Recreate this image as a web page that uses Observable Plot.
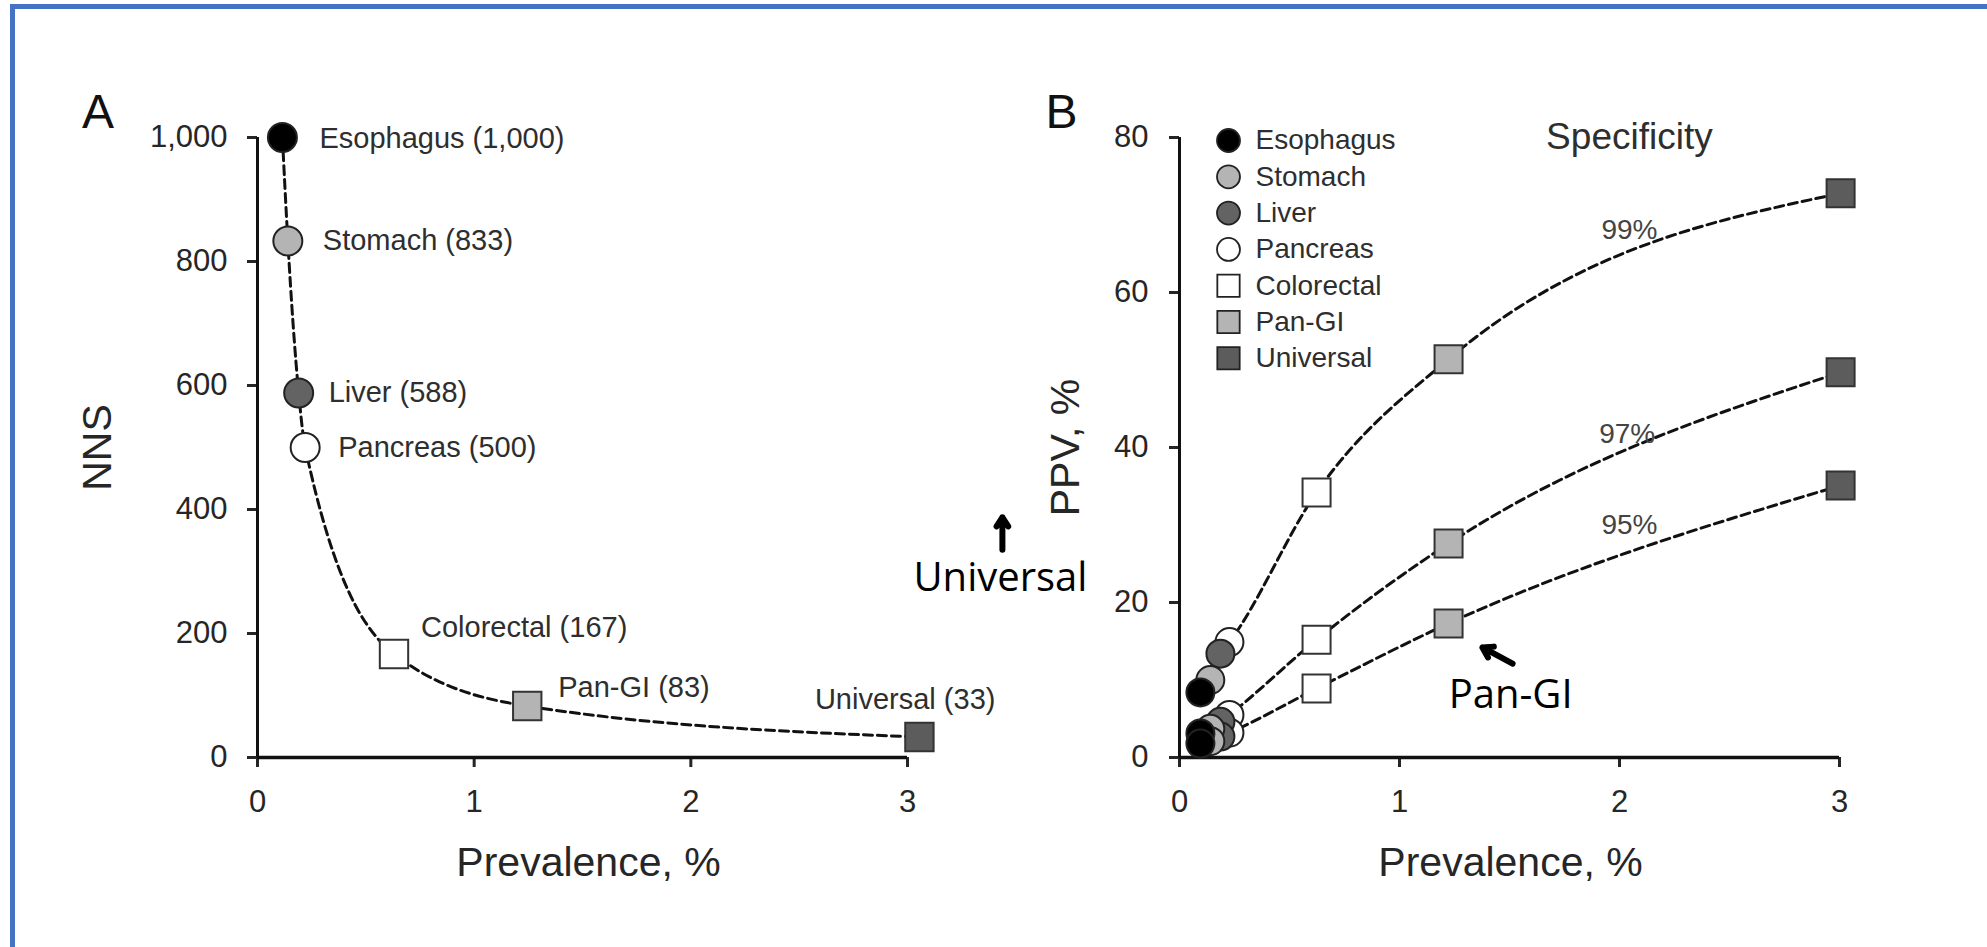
<!DOCTYPE html>
<html>
<head>
<meta charset="utf-8">
<script src="https://cdn.jsdelivr.net/npm/d3@7"></script>
<script src="https://cdn.jsdelivr.net/npm/@observablehq/plot@0.6"></script>
<style>
  html, body { margin: 0; padding: 0; background: #fff; }
  #page { position: relative; width: 1987px; height: 947px; overflow: hidden; background: #fff; }
  #frame { position: absolute; left: 10px; top: 4px; width: 2000px; height: 1000px;
           border-top: 5px solid #4472C4; border-left: 5px solid #4472C4; }
  #panelA { position: absolute; left: 0; top: 0; width: 1000px; height: 947px; }
  #panelB { position: absolute; left: 860px; top: 0; width: 1127px; height: 947px; }
</style>
</head>
<body>
<div id="page">
  <div id="frame"></div>
  <div id="panelA"></div>
  <div id="panelB"></div>
</div>
<script>
// ---------------- data ----------------
const organs = ["Esophagus", "Stomach", "Liver", "Pancreas", "Colorectal", "Pan-GI", "Universal"];
const prevalenceA = [0.115, 0.14, 0.19, 0.22, 0.63, 1.245, 3.055];
const nns = [1000, 833, 588, 500, 167, 83, 33];
const nnsLabels = ["Esophagus (1,000)", "Stomach (833)", "Liver (588)", "Pancreas (500)", "Colorectal (167)", "Pan-GI (83)", "Universal (33)"];

const prevalenceB = [0.095, 0.14, 0.186, 0.227, 0.623, 1.223, 3.005];
const specificities = ["99%", "97%", "95%"];
const ppv99 = [8.4, 10.0, 13.4, 14.9, 34.2, 51.4, 72.8];
const ppv97 = [3.1, 3.7, 4.6, 5.5, 15.2, 27.6, 49.7];
const ppv95 = [1.8, 2.1, 2.7, 3.2, 8.9, 17.3, 35.1];

const xTicks = [0, 1, 2, 3];
const yTicksA = [0, 200, 400, 600, 800, 1000];
const yTicksB = [0, 20, 40, 60, 80];

// ---------------- styles / placement ----------------
const fills = ["#000000", "#b4b4b4", "#636363", "#ffffff", "#ffffff", "#b4b4b4", "#5c5c5c"];
const shapes = ["circle", "circle", "circle", "circle", "square", "square", "square"];
const fontFamily = "'Liberation Sans', Arial, Helvetica, sans-serif";
const annotationFont = "'Open Sans', 'Noto Sans', sans-serif";
const ink = "#262626";

const labelPlacementA = [
  {dx: 37, dy: 1, anchor: "start"},
  {dx: 35, dy: 0, anchor: "start"},
  {dx: 30, dy: 0, anchor: "start"},
  {dx: 33, dy: 0, anchor: "start"},
  {dx: 27, dy: -26, anchor: "start"},
  {dx: 31, dy: -18, anchor: "start"},
  {dx: 76, dy: -37, anchor: "end"}
];

// curve labels and annotations placed in panel B data units
const specLabels = [
  {text: "99%", x: 2.045, y: 68.1},
  {text: "97%", x: 2.035, y: 41.8},
  {text: "95%", x: 2.045, y: 30.0}
];
const annotationsB = [
  {text: "Universal", x: -0.814, y: 23.1},
  {text: "Pan-GI", x: 1.505, y: 8.0}
];
const arrowsB = [
  {x1: -0.805, y1: 26.8, x2: -0.805, y2: 31.0},
  {x1: 1.514, y1: 12.1, x2: 1.377, y2: 14.2}
];

const intFormat = d3.format("d");

// ---------------- panel A ----------------
const rowsA = organs.map((organ, i) => ({organ, x: prevalenceA[i], y: nns[i], label: nnsLabels[i], fill: fills[i], shape: shapes[i]}));

const plotA = Plot.plot({
  width: 1000, height: 947,
  marginLeft: 257, marginRight: 93, marginTop: 137, marginBottom: 190,
  x: {domain: [0, 3]},
  y: {domain: [0, 1000]},
  style: {fontFamily, background: "none", overflow: "visible"},
  marks: [
    Plot.axisX({ticks: xTicks, tickFormat: intFormat, tickSize: 10, tickPadding: 22, fontSize: 31, strokeWidth: 3, color: ink, label: null}),
    Plot.axisY({ticks: yTicksA, tickFormat: d3.format(","), tickSize: 10, tickPadding: 20, fontSize: 31, strokeWidth: 3, color: ink, label: null}),
    Plot.ruleY([0], {stroke: "#111", strokeWidth: 3.5}),
    Plot.ruleX([0], {stroke: "#111", strokeWidth: 3}),
    Plot.text(["Prevalence, %"], {frameAnchor: "bottom", text: d => d, textAnchor: "middle", lineAnchor: "middle", dx: 6, dy: 105, fontSize: 41, fill: ink}),
    Plot.text(["NNS"], {frameAnchor: "left", text: d => d, textAnchor: "middle", lineAnchor: "middle", rotate: -90, dx: -160, fontSize: 41, fill: ink}),
    Plot.text(["A"], {frameAnchor: "top-left", text: d => d, textAnchor: "middle", lineAnchor: "middle", dx: -159.5, dy: -24.5, fontSize: 48, fill: "#111"}),
    Plot.line(rowsA, {x: "x", y: "y", curve: "monotone-x", stroke: "#111", strokeWidth: 3, strokeDasharray: "9,5"}),
    Plot.dot(rowsA.filter(d => d.shape === "circle"), {x: "x", y: "y", r: 14.5, symbol: "circle", fill: "fill", stroke: "#222", strokeWidth: 2}),
    Plot.dot(rowsA.filter(d => d.shape === "square"), {x: "x", y: "y", r: 16, symbol: "square", fill: "fill", stroke: "#333", strokeWidth: 2}),
    ...rowsA.map((d, i) => Plot.text([d], {
      x: "x", y: "y", text: "label",
      dx: labelPlacementA[i].dx, dy: labelPlacementA[i].dy,
      textAnchor: labelPlacementA[i].anchor, lineAnchor: "middle",
      fontSize: 29, fill: "#2e2e2e"
    }))
  ]
});
document.getElementById("panelA").append(plotA);

// ---------------- panel B ----------------
const ppvBySpec = {"99%": ppv99, "97%": ppv97, "95%": ppv95};
const rowsB = specificities.flatMap(spec => organs.map((organ, i) => ({
  spec, organ, i, x: prevalenceB[i], y: ppvBySpec[spec][i], fill: fills[i], shape: shapes[i]
})));
const circlesB = rowsB.filter(d => d.shape === "circle").sort((a, b) => b.i - a.i);
const squaresB = rowsB.filter(d => d.shape === "square");

const legendMarks = organs.flatMap((organ, i) => [
  Plot.dot([organ], {
    frameAnchor: "top-left", dx: 49, dy: 3 + i * 36.3,
    r: shapes[i] === "circle" ? 11.5 : 12.6, symbol: shapes[i],
    fill: fills[i], stroke: "#222", strokeWidth: 1.8
  }),
  Plot.text([organ], {
    frameAnchor: "top-left", dx: 76, dy: 3 + i * 36.3, text: d => d,
    textAnchor: "start", lineAnchor: "middle", fontSize: 28, fill: "#2e2e2e"
  })
]);

const plotB = Plot.plot({
  width: 1127, height: 947,
  marginLeft: 319, marginRight: 148, marginTop: 137, marginBottom: 190,
  x: {domain: [0, 3]},
  y: {domain: [0, 80]},
  style: {fontFamily, background: "none", overflow: "visible"},
  marks: [
    Plot.axisX({ticks: xTicks, tickFormat: intFormat, tickSize: 10, tickPadding: 22, fontSize: 31, strokeWidth: 3, color: ink, label: null}),
    Plot.axisY({ticks: yTicksB, tickFormat: intFormat, tickSize: 10, tickPadding: 21, fontSize: 31, strokeWidth: 3, color: ink, label: null}),
    Plot.ruleY([0], {stroke: "#111", strokeWidth: 3.5}),
    Plot.ruleX([0], {stroke: "#111", strokeWidth: 3}),
    Plot.text(["Prevalence, %"], {frameAnchor: "bottom", text: d => d, textAnchor: "middle", lineAnchor: "middle", dx: 1, dy: 105, fontSize: 41, fill: ink}),
    Plot.text(["PPV, %"], {frameAnchor: "left", text: d => d, textAnchor: "middle", lineAnchor: "middle", rotate: -90, dx: -114, fontSize: 41, fill: ink}),
    Plot.text(["B"], {frameAnchor: "top-left", text: d => d, textAnchor: "middle", lineAnchor: "middle", dx: -118, dy: -24.5, fontSize: 48, fill: "#111"}),
    Plot.text(["Specificity"], {x: () => 2.045, y: () => 80, text: d => d, fontSize: 37, fill: "#2e2e2e"}),
    Plot.line(rowsB, {x: "x", y: "y", z: "spec", curve: "monotone-x", stroke: "#111", strokeWidth: 3, strokeDasharray: "9,5"}),
    Plot.dot(circlesB, {x: "x", y: "y", r: 14, symbol: "circle", fill: "fill", stroke: "#222", strokeWidth: 2}),
    Plot.dot(squaresB, {x: "x", y: "y", r: 15.8, symbol: "square", fill: "fill", stroke: "#333", strokeWidth: 2}),
    Plot.text(specLabels, {x: "x", y: "y", text: "text", fontSize: 28, fill: "#444"}),
    ...legendMarks,
    Plot.arrow(arrowsB, {x1: "x1", y1: "y1", x2: "x2", y2: "y2", stroke: "#000", strokeWidth: 6, headLength: 3, headAngle: 65}),
    Plot.text(annotationsB, {x: "x", y: "y", text: "text", fontFamily: annotationFont, fontWeight: 400, fontSize: 40, fill: "#000"})
  ]
});
document.getElementById("panelB").append(plotB);
</script>
</body>
</html>
